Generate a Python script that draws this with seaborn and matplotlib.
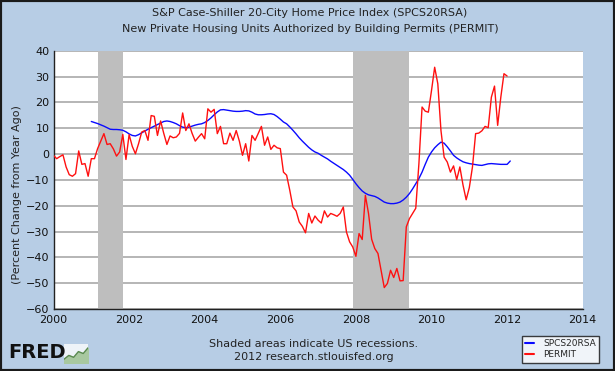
import numpy as np
import pandas as pd
import matplotlib
matplotlib.use("Agg")
import matplotlib.pyplot as plt
from matplotlib.patches import Rectangle
from matplotlib.lines import Line2D
import seaborn as sns

# ---------------- data ----------------
permit_start = 2000.0   # monthly, Jan 2000
permit = [
    -0.5, -1.8, -1.0, -0.3, -5.0, -8.0, -8.6, -7.6, 1.2, -4.0, -3.7, -8.6,      # 2000
    -1.8, -1.8, 2.1, 5.0, 7.9, 3.7, 4.0, 2.0, -0.8, 0.8, 7.6, -2.1,             # 2001
    7.5, 3.0, 0.1, 4.0, 8.5, 9.1, 5.3, 14.9, 14.6, 7.2, 12.8, 8.0,              # 2002
    3.7, 7.0, 6.3, 6.6, 8.0, 15.9, 9.1, 11.7, 8.0, 5.0, 6.5, 7.9,               # 2003
    5.9, 17.5, 16.2, 17.3, 7.9, 10.7, 4.0, 4.0, 8.1, 5.3, 9.1, 5.0,             # 2004
    -0.5, 4.0, -2.7, 7.2, 5.3, 8.0, 10.7, 3.4, 6.6, 1.8, 3.4, 2.4,              # 2005
    2.1, -7.0, -8.2, -14.0, -20.5, -22.0, -26.3, -28.0, -30.5, -23.0, -26.7, -24.0,  # 2006
    -25.6, -26.7, -22.0, -24.4, -23.0, -23.5, -24.1, -23.0, -20.5, -30.2, -34.0, -36.0,  # 2007
    -39.6, -30.8, -33.1, -16.0, -23.0, -33.0, -36.6, -38.5, -45.0, -51.7, -50.1, -45.0,  # 2008
    -47.8, -44.3, -49.1, -49.0, -28.2, -25.0, -23.0, -21.0, -3.7, 18.2, 16.6, 16.2,     # 2009
    24.6, 33.6, 27.2, 9.1, -1.2, -3.1, -7.0, -4.6, -9.9, -5.0, -12.0, -17.7,           # 2010
    -13.0, -5.0, 7.9, 8.1, 9.0, 10.7, 10.2, 22.0, 26.3, 11.1, 22.0, 31.1,              # 2011
    30.2,                                                                              # 2012
]
spcs_start = 2001.0     # monthly, Jan 2001
spcs = [
    12.6, 12.2, 11.8, 11.3, 10.8, 10.2, 9.6, 9.5, 9.5, 9.4, 9.2, 8.6,           # 2001
    7.8, 7.2, 7.0, 7.5, 8.2, 8.9, 9.6, 10.2, 10.8, 11.4, 12.0, 12.6,            # 2002
    12.8, 12.6, 12.2, 11.7, 11.0, 10.4, 10.2, 10.4, 10.8, 11.2, 11.5, 11.7,     # 2003
    12.2, 13.0, 14.0, 15.2, 16.3, 17.1, 17.2, 17.0, 16.8, 16.6, 16.5, 16.5,     # 2004
    16.6, 16.8, 16.7, 16.2, 15.5, 15.2, 15.2, 15.3, 15.5, 15.6, 15.3, 14.5,     # 2005
    13.5, 12.4, 11.7, 10.5, 9.2, 7.8, 6.3, 5.0, 3.8, 2.6, 1.6, 0.8,             # 2006
    0.3, -0.5, -1.2, -1.9, -2.8, -3.6, -4.4, -5.2, -6.0, -7.0, -8.2, -9.8,      # 2007
    -11.5, -13.0, -14.3, -15.2, -15.8, -16.1, -16.4, -17.0, -17.8, -18.6, -19.0, -19.2,  # 2008
    -19.2, -19.0, -18.6, -17.8, -16.7, -15.3, -13.5, -11.5, -9.5, -7.0, -4.0, -1.2,     # 2009
    0.8, 2.4, 3.6, 4.6, 4.2, 2.8, 1.2, -0.5, -1.5, -2.3, -3.0, -3.4,                   # 2010
    -3.7, -3.9, -4.1, -4.3, -4.4, -4.1, -3.8, -3.7, -3.8, -3.9, -4.0, -4.0,            # 2011
    -4.0, -2.7,                                                                        # 2012
]
recession_starts = [2001.167, 2007.917]
recession_ends = [2001.833, 2009.417]
x_ticks = [2000, 2002, 2004, 2006, 2008, 2010, 2012, 2014]
y_ticks = [-60, -50, -40, -30, -20, -10, 0, 10, 20, 30, 40]
series_names = ["SPCS20RSA", "PERMIT"]
series_colors = ["#0a0aff", "#ff1010"]
logo_icon = [1, 2, 1.5, 3, 2.5, 4]

# ---------------- frames ----------------
df_p = pd.DataFrame({"date": permit_start + np.arange(len(permit)) / 12.0,
                     "value": permit, "series": "PERMIT"})
df_s = pd.DataFrame({"date": spcs_start + np.arange(len(spcs)) / 12.0,
                     "value": spcs, "series": "SPCS20RSA"})

BG = "#b7cde5"
sns.set_theme(style="white")
plt.rcParams["font.family"] = ["DejaVu Sans"]

fig = plt.figure(figsize=(6.15, 3.71), dpi=100, facecolor=BG)
ax = fig.add_axes([0.0870, 0.1671, 0.8605, 0.6962])
ax.set_facecolor("white")

for a, b in zip(recession_starts, recession_ends):
    ax.axvspan(a, b, color="#bebebe", lw=0, zorder=1)

sns.lineplot(data=df_s, x="date", y="value", ax=ax, color=series_colors[0],
             lw=1.0, zorder=3, legend=False)
sns.lineplot(data=df_p, x="date", y="value", ax=ax, color=series_colors[1],
             lw=1.0, zorder=3, legend=False)

ax.set_xlim(2000, 2014)
ax.set_ylim(-60, 40)
ax.set_xticks(x_ticks)
ax.set_yticks(y_ticks)
ax.set_xlabel("")
ax.set_ylabel("")
ax.set_axisbelow(True)
ax.yaxis.grid(True, color="#b0b0b0", lw=1.3)
ax.xaxis.grid(False)
for s in ["top", "right"]:
    ax.spines[s].set_visible(False)
for s in ["left", "bottom"]:
    ax.spines[s].set_color("#222222")
    ax.spines[s].set_linewidth(1.0)
ax.tick_params(axis="both", direction="in", length=4, width=1, color="#333333",
               labelsize=8, labelcolor="#111111")
ax.tick_params(axis="y", pad=3)
ax.tick_params(axis="x", pad=4)

# texts
fig.text(0.504, 1 - 13.5 / 371, "S&P Case-Shiller 20-City Home Price Index (SPCS20RSA)",
         ha="center", va="center", fontsize=8, color="#222222")
fig.text(0.504, 1 - 29.5 / 371, "New Private Housing Units Authorized by Building Permits (PERMIT)",
         ha="center", va="center", fontsize=8, color="#222222")
fig.text(0.028, 1 - 195 / 371, "(Percent Change from Year Ago)", rotation=90,
         ha="center", va="center", fontsize=8, color="#222222")
fig.text(0.51, 1 - 344 / 371, "Shaded areas indicate US recessions.",
         ha="center", va="center", fontsize=8, color="#222222")
fig.text(0.51, 1 - 357.5 / 371, "2012 research.stlouisfed.org",
         ha="center", va="center", fontsize=8, color="#222222")

# FRED logo
fig.text(0.013, 1 - 353 / 371, "FRED", ha="left", va="center", fontsize=14,
         fontweight="heavy", color="#111111")
iax = fig.add_axes([64 / 615, 1 - 363 / 371, 24 / 615, 19 / 371])
iax.set_facecolor("#eef3f8")
iax.fill_between(range(len(logo_icon)), logo_icon, color="#a8c8a0")
iax.plot(range(len(logo_icon)), logo_icon, color="#5a8a50", lw=1)
iax.set_xlim(0, len(logo_icon) - 1)
iax.set_ylim(0, 5)
iax.set_xticks([])
iax.set_yticks([])
for s in iax.spines.values():
    s.set_visible(False)

# legend
handles = [Line2D([], [], color=c, lw=1.5) for c in series_colors]
leg = fig.legend(handles, series_names, loc="upper left",
                 bbox_to_anchor=(522 / 615, 1 - 336 / 371), fontsize=6.5,
                 frameon=True, fancybox=False, handlelength=1.0,
                 handletextpad=1.0, borderpad=0.35, labelspacing=0.25,
                 borderaxespad=0)
leg.get_frame().set_edgecolor("#111111")
leg.get_frame().set_linewidth(1.0)
leg.get_frame().set_facecolor("white")

fig.patches.append(Rectangle((0, 0), 1, 1, transform=fig.transFigure, fill=False,
                             edgecolor="#1a1a1a", lw=3))

fig.savefig("out.png", dpi=100, facecolor=BG)
